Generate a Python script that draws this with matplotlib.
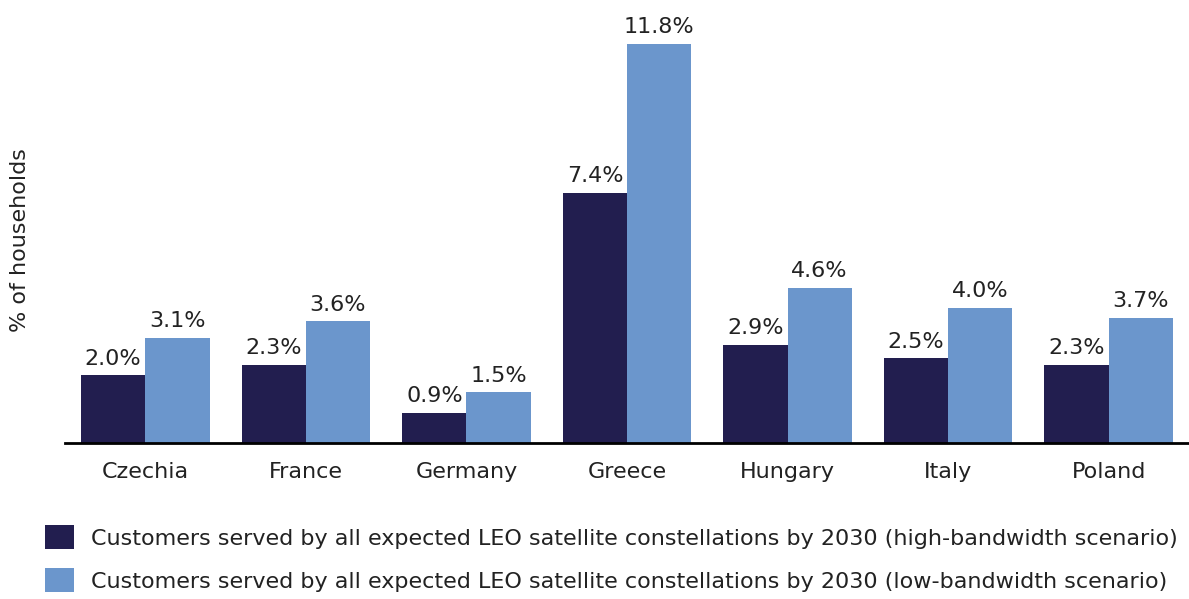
import numpy as np
import matplotlib

matplotlib.use("Agg")
import matplotlib.pyplot as plt
from matplotlib.patches import Patch

plt.rcParams["font.family"] = ["DejaVu Sans"]

countries = ["Czechia", "France", "Germany", "Greece", "Hungary", "Italy", "Poland"]
high_bw = [2.0, 2.3, 0.9, 7.4, 2.9, 2.5, 2.3]
low_bw = [3.1, 3.6, 1.5, 11.8, 4.6, 4.0, 3.7]
series_names = [
    "Customers served by all expected LEO satellite constellations by 2030 (high-bandwidth scenario)",
    "Customers served by all expected LEO satellite constellations by 2030 (low-bandwidth scenario)",
]

DARK = "#221E4F"
LIGHT = "#6B96CC"
TXT = "#222222"
FS = 16

fig = plt.figure(figsize=(11.89, 5.99), dpi=100, facecolor="white")
ax = fig.add_axes([65 / 1189, 156 / 599, 1124 / 1189, 433 / 599])

x = np.arange(len(countries))
w = 0.4
b1 = ax.bar(x - w / 2, high_bw, w, color=DARK)
b2 = ax.bar(x + w / 2, low_bw, w, color=LIGHT)

for bars, vals in ((b1, high_bw), (b2, low_bw)):
    for r, v in zip(bars, vals):
        ax.text(r.get_x() + r.get_width() / 2, v + 0.2, f"{v:.1f}%",
                ha="center", va="bottom", fontsize=FS, color=TXT)

ax.set_xlim(-0.5, len(countries) - 0.5)
ax.set_ylim(0, 12.81)
ax.set_xticks(x)
ax.set_xticklabels(countries, fontsize=FS, color=TXT)
ax.tick_params(axis="x", length=0, pad=14)
ax.set_yticks([])
for s in ("top", "right", "left"):
    ax.spines[s].set_visible(False)
ax.spines["bottom"].set_linewidth(2)
ax.spines["bottom"].set_color("black")

fig.text(20 / 1189, 1 - 240 / 599, "% of households", rotation=90,
         ha="center", va="center", fontsize=FS, color=TXT)

handles = [Patch(facecolor=DARK), Patch(facecolor=LIGHT)]
fig.legend(handles, series_names, loc="upper left",
           bbox_to_anchor=(25 / 1189, 1 - 505 / 599), frameon=False,
           fontsize=FS, handlelength=1.3, handleheight=1.3,
           handletextpad=0.75, labelspacing=0.85, labelcolor=TXT)

fig.savefig("out.png", dpi=100, facecolor="white")
